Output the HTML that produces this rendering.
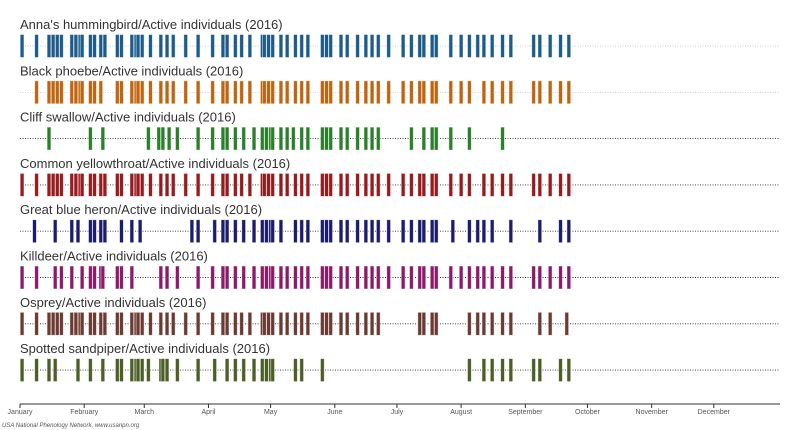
<!DOCTYPE html>
<html><head><meta charset="utf-8"><style>
body{margin:0;background:#fff;width:800px;height:430px;overflow:hidden}
svg{display:block;font-family:"Liberation Sans",sans-serif}
</style></head><body>
<svg id="chart" width="800" height="430" viewBox="0 0 800 430"></svg>
<script>
const speciesNames=["Anna's hummingbird","Black phoebe","Cliff swallow","Common yellowthroat","Great blue heron","Killdeer","Osprey","Spotted sandpiper"];
const annaDays=[1,8,14,16,18,20,25,27,29,30,34,36,39,41,47,49,54,56,57,59,63,68,71,74,80,86,93,98,100,104,107,111,117,118,120,122,126,129,133,136,139,146,148,150,155,158,163,167,170,173,178,185,189,193,195,199,201,208,213,217,221,224,228,233,237,248,251,256,261,265];
const phoebeDays=[8,14,16,18,20,25,27,29,30,34,36,39,47,49,54,56,57,59,63,68,71,74,80,86,93,98,100,104,107,111,117,118,120,122,126,129,133,136,139,146,148,150,155,158,163,167,170,173,178,185,189,193,195,199,201,208,213,217,224,228,233,237,248,251,256,261,265];
const swallowDays=[14,34,40,62,67,69,72,76,86,93,98,100,104,108,113,117,119,121,122,126,129,132,136,139,146,148,150,155,158,163,167,170,173,189,195,199,201,208,217,233];
const yellowthroatDays=[1,8,14,16,18,20,25,27,29,30,34,36,39,41,47,49,54,56,57,59,63,68,71,74,80,86,93,98,100,104,107,111,117,118,120,122,126,129,133,136,139,146,148,150,155,158,163,167,170,173,178,185,189,193,195,199,201,208,213,217,224,228,233,237,248,251,256,261,265];
const heronDays=[7,17,25,28,34,36,39,41,49,54,58,83,86,94,98,100,104,108,113,117,119,121,122,126,133,136,139,146,148,150,155,158,163,167,170,173,178,185,189,193,195,199,201,209,217,221,224,228,237,251,261,265];
const killdeerDays=[1,8,17,20,25,30,34,36,39,40,47,49,54,68,71,76,86,93,98,100,104,108,113,117,119,121,122,126,129,133,136,139,146,148,150,155,158,163,167,170,173,178,185,189,193,195,199,201,208,213,217,221,224,228,233,237,248,251,256,261,265];
const ospreyDays=[1,8,14,16,18,20,25,27,29,30,34,36,39,41,47,49,54,56,57,59,63,68,71,74,80,86,93,98,100,104,107,111,117,118,120,122,126,129,133,136,139,146,148,150,155,158,163,167,170,173,193,195,199,201,217,221,224,228,233,237,251,256,264];
const sandpiperDays=[1,8,14,17,28,34,40,47,49,54,56,57,59,62,68,69,71,76,86,94,100,104,108,113,117,119,121,122,133,136,146,217,224,228,233,237,248,251,261,265];
const monthLabels=["January","February","March","April","May","June","July","August","September","October","November","December"];
const monthStartDays=[0,31,60,91,121,152,182,213,244,274,305,335];

const series=[annaDays,phoebeDays,swallowDays,yellowthroatDays,heronDays,killdeerDays,ospreyDays,sandpiperDays];
const colors=["#1d5c8a","#c0650f","#2a7f2a","#971b1e","#1c1c6e","#8c1a68","#6b3a33","#4b5e25"];
const NS="http://www.w3.org/2000/svg";
const svg=document.getElementById('chart');
const x0=20,x1=778;
function xScale(d){return x0+d*(x1-x0)/366;}
function rowY(i){return 46+i*46.3;}
function mk(tag,attrs,parent){const e=document.createElementNS(NS,tag);for(const k in attrs)e.setAttribute(k,attrs[k]);(parent||svg).appendChild(e);return e;}

series.forEach((days,i)=>{
  const g=mk('g',{});
  
  
  const y=rowY(i);
  const t=mk('text',{x:20,y:y-17,'font-size':13,fill:'#333'},g);
  t.textContent=speciesNames[i]+"/Active individuals (2016)";
  
  
  const ln=mk('line',{x1:20,x2:780,y1:y,y2:y,stroke:i<2?'#bbb':'#333','stroke-width':i<2?0.7:0.9,'stroke-dasharray':'1,1.5'},g);
  
  
  days.forEach(d=>{
    const r=mk('rect',{x:xScale(d)-1.9,y:y-11.5,width:3.8,height:23,fill:colors[i],stroke:'#fff','stroke-opacity':0.6,'stroke-width':0.8},g);
    
    
  });
});

const ax=mk('g',{});


mk('line',{x1:20,x2:780,y1:404,y2:404,stroke:'#333','stroke-width':1},ax);
monthStartDays.forEach((d,k)=>{
  const xx=xScale(d);
  mk('line',{x1:xx,x2:xx,y1:404,y2:408,stroke:'#333','stroke-width':1},ax);
  const t=mk('text',{x:xx,y:414,'font-size':7,fill:'#555','text-anchor':'middle'},ax);
  t.textContent=monthLabels[k];
  
  
});
const f=mk('text',{x:2,y:427,'font-size':6,fill:'#555','font-style':'italic'});
f.textContent="USA National Phenology Network, www.usanpn.org";


</script>
</body></html>
